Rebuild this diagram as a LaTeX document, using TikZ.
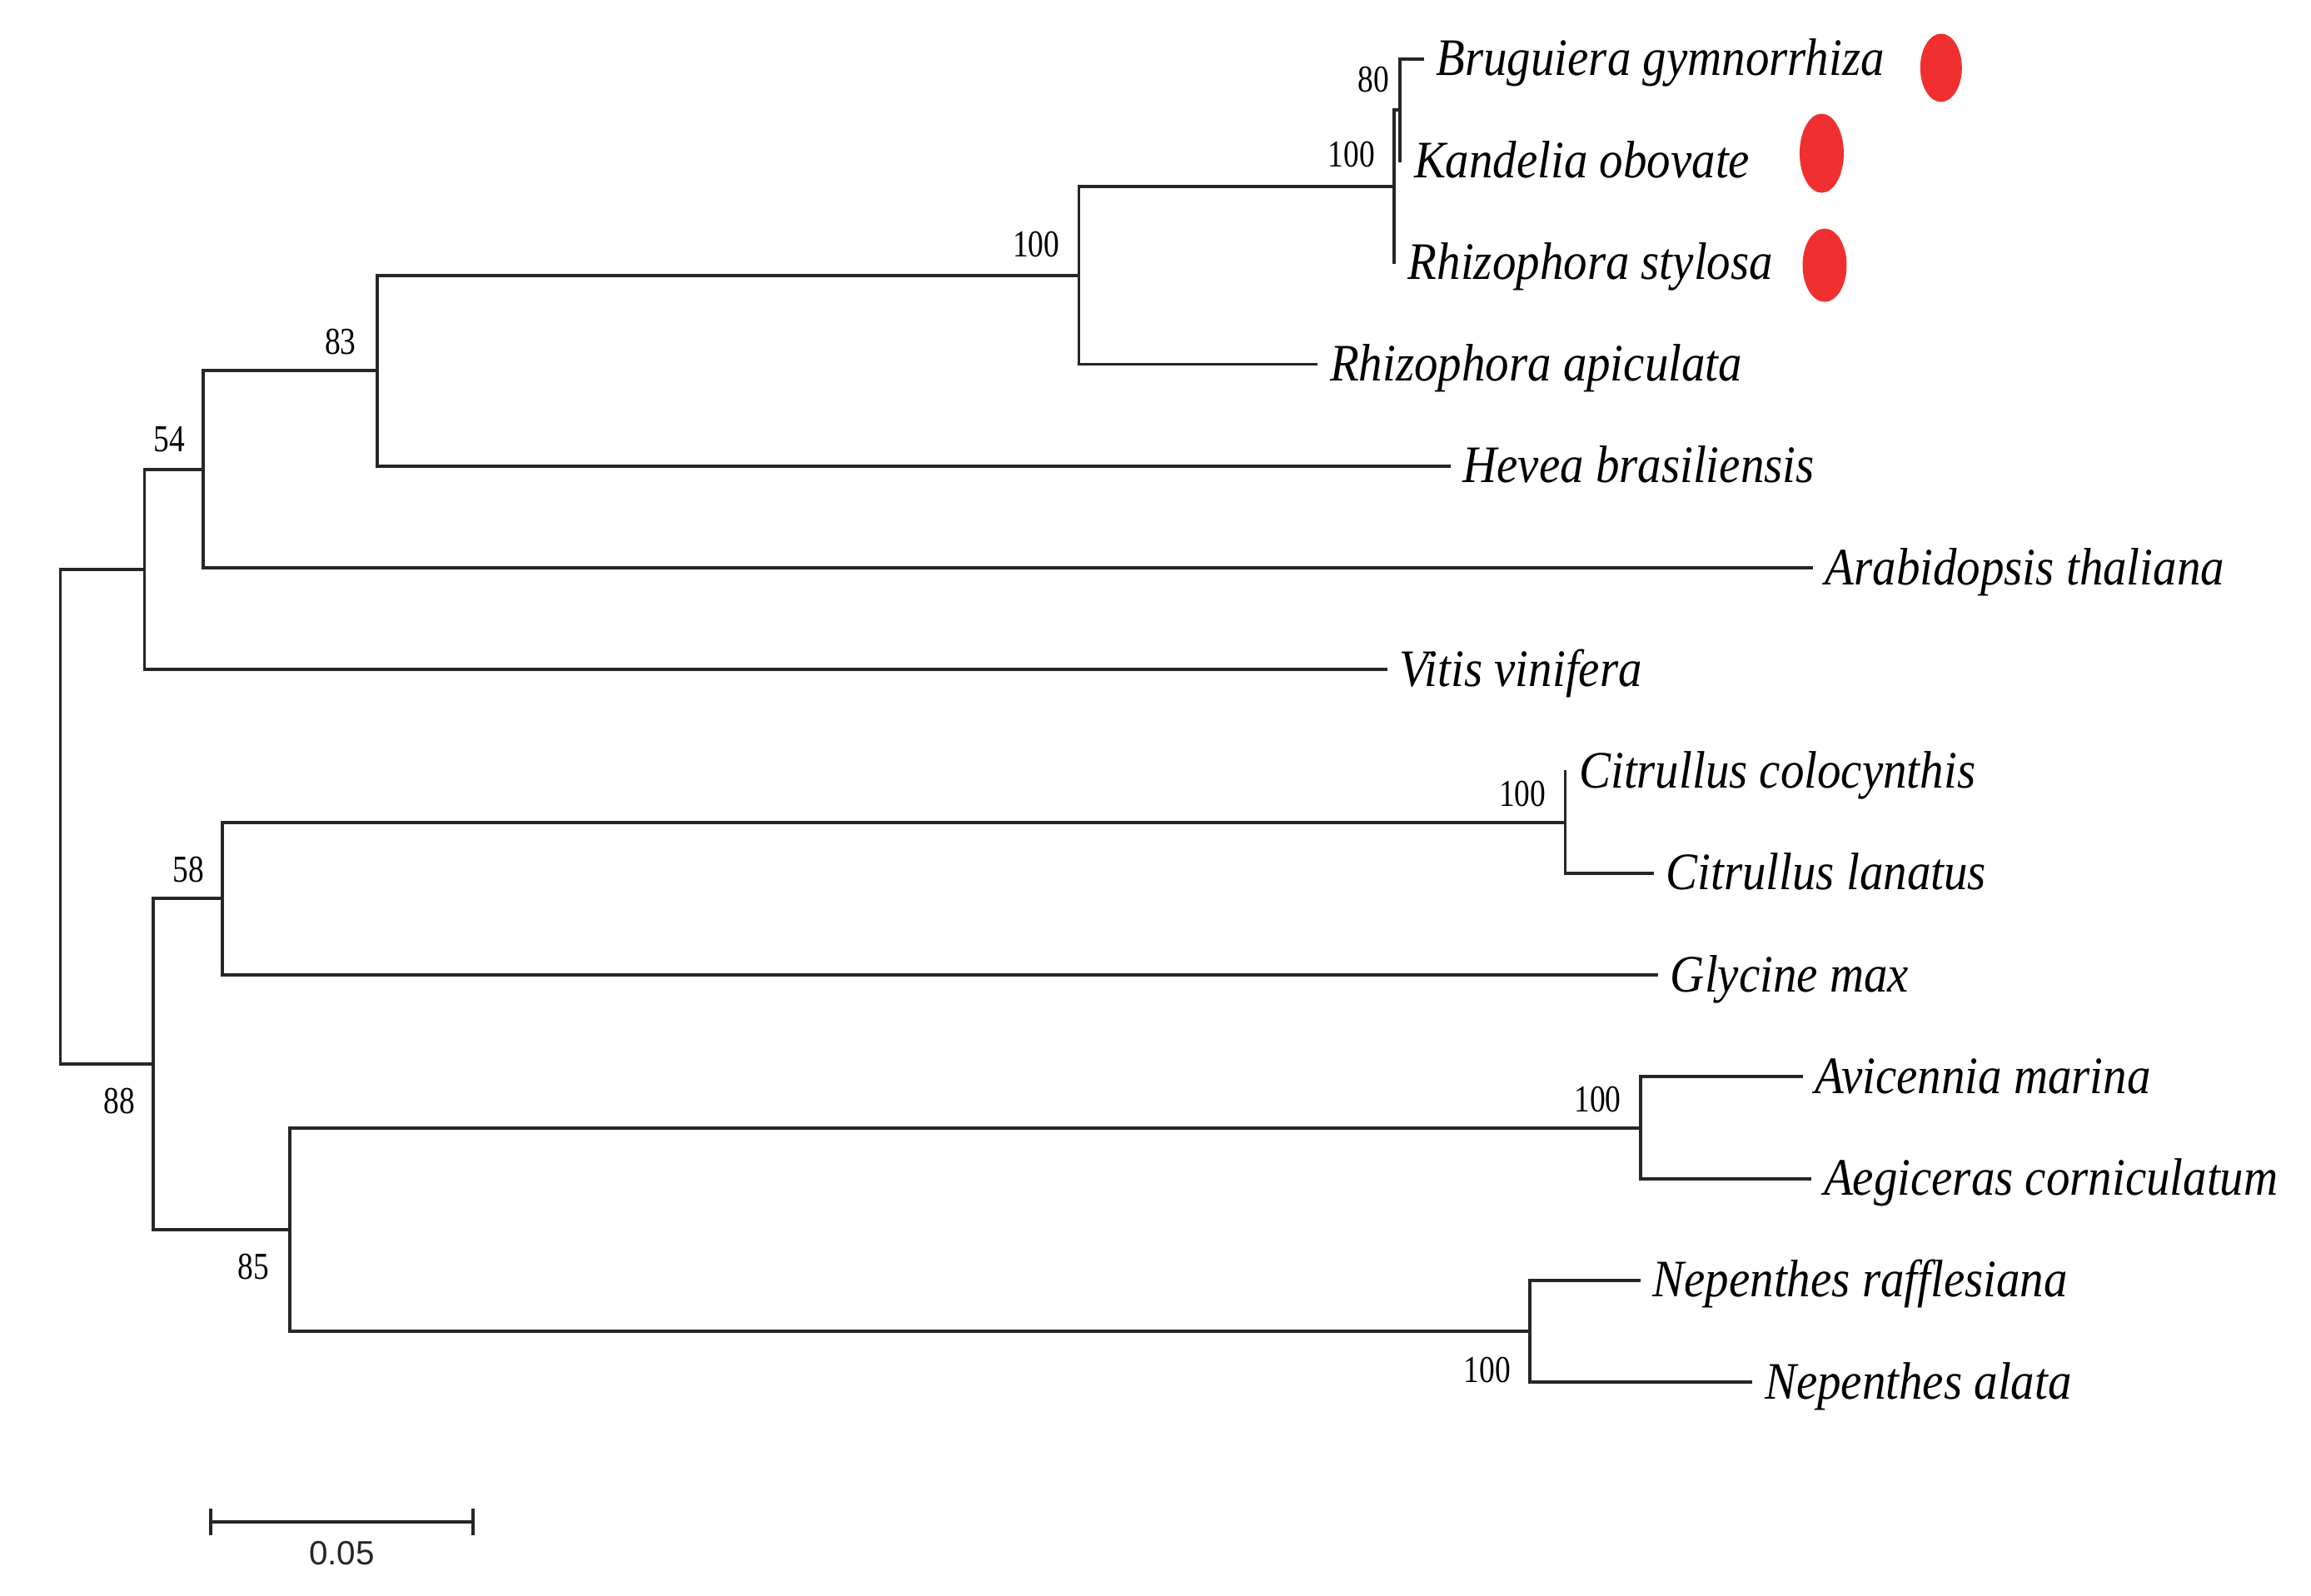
\documentclass[tikz,border=0pt]{standalone}
\usepackage{fontspec}
\setmainfont{Liberation Serif}
\newfontfamily\spfont[FakeStretch=0.9]{Liberation Serif}
\newfontfamily\bsfont[FakeStretch=0.82]{Liberation Serif}
\newfontfamily\scfont{Liberation Sans}
\definecolor{dotred}{RGB}{240,48,48}
\tikzset{
  br/.style={line width=1.1pt, draw=black!85, line cap=rect},
  leaf/.style={anchor=west, inner xsep=0.16cm, inner ysep=0pt,
    text height=0.73cm, text depth=0.33cm,
    font=\spfont\itshape\fontsize{18}{20}\selectfont},
  bs/.style={inner sep=0pt, font=\bsfont\fontsize{13}{15}\selectfont},
}
\begin{document}
\begin{tikzpicture}[x=0.017698cm, y=-0.017698cm]
\useasboundingbox (0,0) rectangle (1568,1083);
% internal nodes
\coordinate (root) at (41,554.4);
\coordinate (nA) at (98,386.5);
\coordinate (n54) at (138,318.5);
\coordinate (n83) at (256,251.6);
\coordinate (n100b) at (732,186.8);
\coordinate (n100a) at (946,126.4);
\coordinate (n80) at (950,74.5);
\coordinate (n88) at (104,722.2);
\coordinate (n58) at (151,609.9);
\coordinate (n100c) at (1062,558.1);
\coordinate (n85) at (196.5,834.4);
\coordinate (n100d) at (1113,765.4);
\coordinate (n100e) at (1038,903.5);
% leaves
\node[leaf] (bg) at (965,40) {Bruguiera gymnorrhiza};
\node[leaf] (ko) at (950,109.1) {Kandelia obovate};
\node[leaf] (rs) at (946,178.2) {Rhizophora stylosa};
\node[leaf] (ra) at (893,247.2) {Rhizophora apiculata};
\node[leaf] (hb) at (983,316.3) {Hevea brasiliensis};
\node[leaf] (at) at (1229,385.4) {Arabidopsis thaliana};
\node[leaf] (vv) at (940,454.5) {Vitis vinifera};
\node[leaf] (cc) at (1062,523.6) {Citrullus colocynthis};
\node[leaf] (cl) at (1121,592.6) {Citrullus lanatus};
\node[leaf] (gm) at (1124,661.7) {Glycine max};
\node[leaf] (am) at (1222,730.8) {Avicennia marina};
\node[leaf] (ac) at (1228,799.9) {Aegiceras corniculatum};
\node[leaf] (nr) at (1112,869) {Nepenthes rafflesiana};
\node[leaf] (na) at (1188,938) {Nepenthes alata};
% branches
\draw[br] (root) |- (nA);
\draw[br] (root) |- (n88);
\draw[br] (nA) |- (n54);
\draw[br] (nA) |- (vv.west);
\draw[br] (n54) |- (n83);
\draw[br] (n54) |- (at.west);
\draw[br] (n83) |- (n100b);
\draw[br] (n83) |- (hb.west);
\draw[br] (n100b) |- (n100a);
\draw[br] (n100b) |- (ra.west);
\draw[br] (n100a) |- (n80);
\draw[br] (n100a) |- (rs.west);
\draw[br] (n80) |- (bg.west);
\draw[br] (n80) |- (ko.west);
\draw[br] (n88) |- (n58);
\draw[br] (n88) |- (n85);
\draw[br] (n58) |- (n100c);
\draw[br] (n58) |- (gm.west);
\draw[br] (n100c) |- (cc.west);
\draw[br] (n100c) |- (cl.west);
\draw[br] (n85) |- (n100d);
\draw[br] (n85) |- (n100e);
\draw[br] (n100d) |- (am.west);
\draw[br] (n100d) |- (ac.west);
\draw[br] (n100e) |- (nr.west);
\draw[br] (n100e) |- (na.west);
% bootstrap values
\node[bs] (b80) at (932,54) {80};
\node[bs] (b100a) at (917,105) {100};
\node[bs] (b100b) at (703,166) {100};
\node[bs] (b83) at (231,232) {83};
\node[bs] (b54) at (115,298) {54};
\node[bs] (b100c) at (1033,539) {100};
\node[bs] (b58) at (128,590) {58};
\node[bs] (b88) at (81,747) {88};
\node[bs] (b100d) at (1084,746) {100};
\node[bs] (b85) at (172,860) {85};
\node[bs] (b100e) at (1009,930) {100};
% red markers
\fill[dotred] (1317,46) ellipse [x radius=0.25cm, y radius=0.41cm];
\fill[dotred] (1236,104) ellipse [x radius=0.265cm, y radius=0.475cm];
\fill[dotred] (1238,180) ellipse [x radius=0.265cm, y radius=0.44cm];
% scale bar
\coordinate (sL) at (143,1033);
\coordinate (sR) at (321,1033);
\draw[br, line cap=butt] (sL) -- (sR);
\draw[br, line cap=butt] ([yshift=0.16cm]sL) -- ([yshift=-0.16cm]sL);
\draw[br, line cap=butt] ([yshift=0.16cm]sR) -- ([yshift=-0.16cm]sR);
\node[inner sep=0pt, font=\scfont\fontsize{11.5}{13}\selectfont, text=black!85] (sl) at (232,1054) {0.05};
\end{tikzpicture}
\end{document}
